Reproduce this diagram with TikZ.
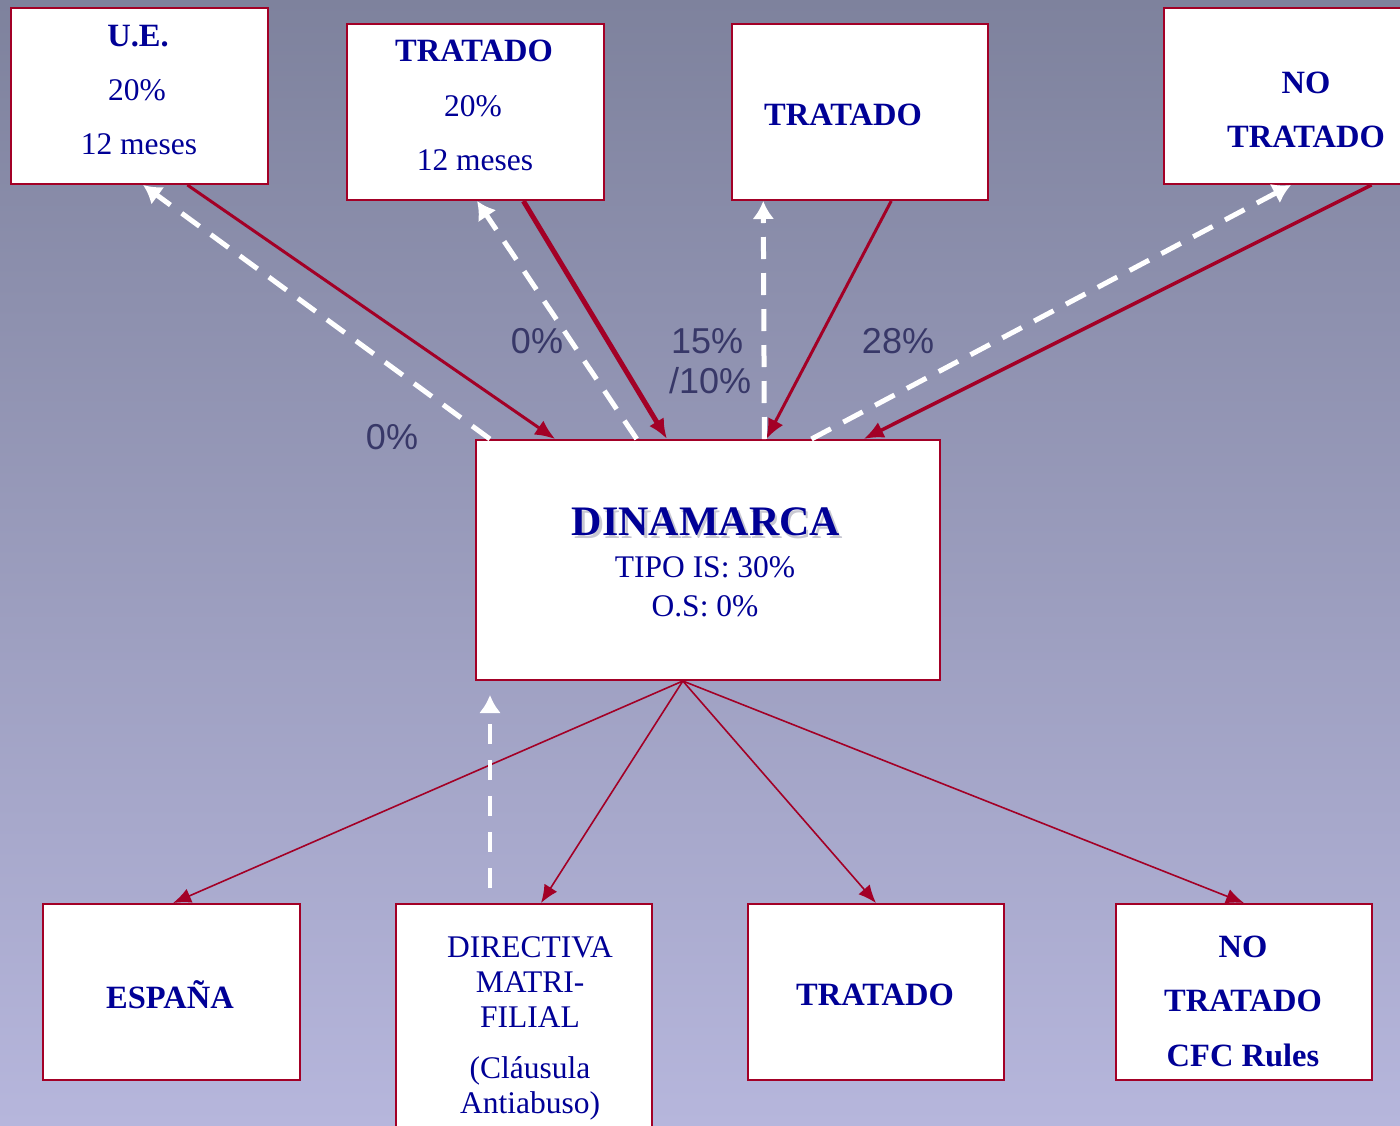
\documentclass[tikz,border=0pt]{standalone}
\usepackage{fontspec}
\setmainfont{Liberation Serif}
\newfontfamily\labfont{Liberation Sans}
\usetikzlibrary{arrows.meta,calc}
\definecolor{bgtop}{RGB}{126,130,157}
\definecolor{bgbot}{RGB}{182,182,220}
\definecolor{crim}{RGB}{163,0,38}
\definecolor{navy}{RGB}{0,0,150}
\definecolor{labc}{RGB}{56,56,104}
\definecolor{shadowc}{RGB}{200,200,210}
\begin{document}
\begin{tikzpicture}[x=1pt,y=-1pt,
  box/.style={draw=crim,line width=2pt,fill=white,inner sep=0pt,anchor=north west},
  txt/.style={text=navy,inner sep=0pt,font=\fontsize{31.5}{36}\selectfont},
  btxt/.style={txt,font=\fontsize{32.5}{36}\selectfont\bfseries},
  lab/.style={text=labc,inner sep=0pt,font=\labfont\fontsize{36}{40}\selectfont},
  redarr/.style={draw=crim,line width=3pt,-{Latex[length=20pt,width=17pt]}},
  thinarr/.style={draw=crim,line width=1.6pt,-{Latex[length=18pt,width=15pt]}},
  whitearr/.style={draw=white,line width=5pt,dash pattern=on 22pt off 14pt,-{Latex[length=18pt,width=22pt]}}
]
\useasboundingbox (0,0) rectangle (1400,1125);
\clip (0,0) rectangle (1400,1125);
\shade[top color=bgtop,bottom color=bgbot] (0,0) rectangle (1400,1125);

% boxes
\node[box,minimum width=257pt,minimum height=176pt] (ue) at (10,7) {};
\node[box,minimum width=257pt,minimum height=176pt] (tA) at (346,23) {};
\node[box,minimum width=256pt,minimum height=176pt] (tB) at (731,23) {};
\node[box,minimum width=257pt,minimum height=176pt] (nt) at (1163,7) {};
\node[box,minimum width=464pt,minimum height=240pt] (din) at (475,439) {};
\node[box,minimum width=257pt,minimum height=176pt] (esp) at (42,903) {};
\node[box,minimum width=256pt,minimum height=240pt] (dir) at (395,903) {};
\node[box,minimum width=256pt,minimum height=176pt] (tC) at (747,903) {};
\node[box,minimum width=256pt,minimum height=176pt] (ntc) at (1115,903) {};

% texts
\node[btxt] (ue1) at (138,36) {U.E.};
\node[txt] (ue2) at (137,90) {20\%};
\node[txt] (ue3) at (139,144) {12 meses};
\node[btxt] (tA1) at (474,51) {TRATADO};
\node[txt] (tA2) at (473,106) {20\%};
\node[txt] (tA3) at (475,160) {12 meses};
\node[btxt] (tB1) at (843,115) {TRATADO};
\node[btxt] (nt1) at (1306,83) {NO};
\node[btxt] (nt2) at (1306,137) {TRATADO};
\node[text=shadowc,inner sep=0pt,font=\fontsize{42}{48}\selectfont\bfseries] (dinS) at (708.5,524.5) {DINAMARCA};
\node[txt,font=\fontsize{42}{48}\selectfont\bfseries] (din1) at (706,522) {DINAMARCA};
\node[txt] (din2) at (705,567) {TIPO IS: 30\%};
\node[txt] (din3) at (705,606) {O.S: 0\%};
\node[btxt] (esp1) at (170,995) {ESPAÑA};
\node[txt] (dir1) at (530,947) {DIRECTIVA};
\node[txt] (dir2) at (530,982) {MATRI-};
\node[txt] (dir3) at (530,1017) {FILIAL};
\node[txt] (dir4) at (530,1071) {(Cláusula};
\node[txt] (dir5) at (530,1106) {Antiabuso)};
\node[btxt] (tC1) at (875,995) {TRATADO};
\node[btxt] (ntc1) at (1243,947) {NO};
\node[btxt] (ntc2) at (1243,1001) {TRATADO};
\node[btxt] (ntc3) at (1243,1055) {CFC Rules};

% percentage labels
\node[lab] (l1) at (392,437) {0\%};
\node[lab] (l2) at (537,341) {0\%};
\node[lab,anchor=west] (l3) at (671,341) {15\%};
\node[lab,anchor=west] (l4) at (669,381) {/10\%};
\node[lab] (l5) at (898,341) {28\%};

% upper red arrows into DINAMARCA
\draw[redarr] ($(ue.south west)!0.685!(ue.south east)$) -- ($(din.north west)!0.172!(din.north east)$);
\draw[redarr,line width=5pt] ($(tA.south west)!0.685!(tA.south east)$) -- ($(din.north west)!0.412!(din.north east)$);
\draw[redarr] ($(tB.south west)!0.621!(tB.south east)$) -- ($(din.north west)!0.625!(din.north east)$);
\draw[redarr,line width=3.5pt] ($(nt.south west)!0.805!(nt.south east)$) -- ($(din.north west)!0.834!(din.north east)$);

% white dashed arrows out of DINAMARCA
\draw[whitearr] ($(din.north west)!0.032!(din.north east)$) -- ($(ue.south west)!0.514!(ue.south east)$);
\draw[whitearr] ($(din.north west)!0.347!(din.north east)$) -- ($(tA.south west)!0.506!(tA.south east)$);
\draw[whitearr] ($(din.north west)!0.621!(din.north east)$) -- ($(tB.south west)!0.125!(tB.south east)$);
\draw[whitearr] ($(din.north west)!0.722!(din.north east)$) -- ($(nt.south west)!0.494!(nt.south east)$);

% lower thin arrows
\coordinate (dinb) at ($(din.south west)!0.446!(din.south east)$);
\draw[thinarr] (dinb) -- ($(esp.north west)!0.506!(esp.north east)$);
\draw[thinarr] (dinb) -- ($(dir.north west)!0.566!(dir.north east)$);
\draw[thinarr] (dinb) -- ($(tC.north west)!0.5!(tC.north east)$);
\draw[thinarr] (dinb) -- ($(ntc.north west)!0.5!(ntc.north east)$);

% dashed up arrow from directive
\coordinate (dA) at (490,888);
\coordinate (dB) at (490,695);
\draw[whitearr,line width=4.5pt,dash pattern=on 20pt off 16pt] (dA) -- (dB);
\end{tikzpicture}
\end{document}
